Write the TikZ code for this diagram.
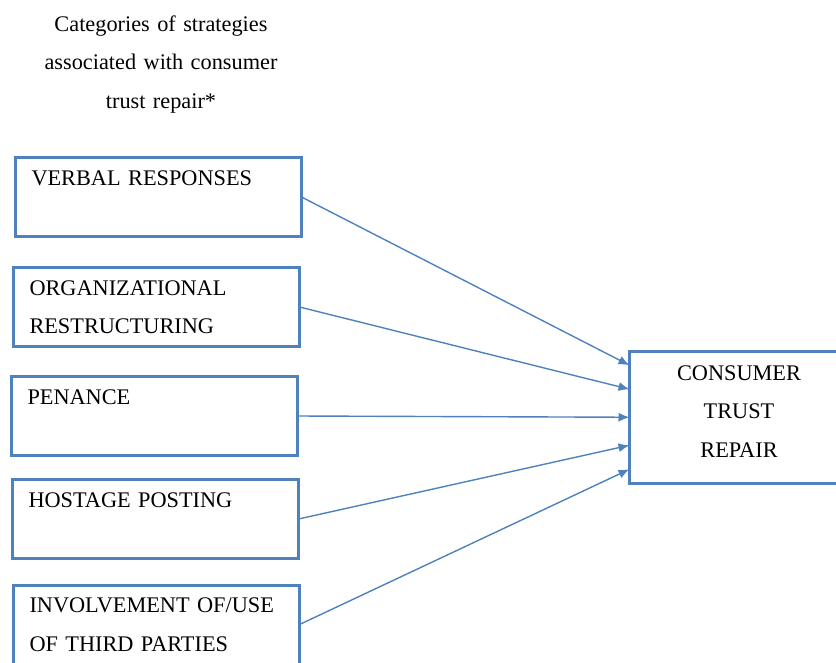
\documentclass[tikz,border=0pt]{standalone}
\usepackage{fontspec}
\setmainfont{Liberation Serif}
\usetikzlibrary{arrows.meta}

\definecolor{boxblue}{HTML}{4F81BD}
\newcommand{\diagfont}{\fontsize{22.3pt}{38.5pt}\selectfont}

\tikzset{
  strategy/.style={draw=boxblue, line width=3pt, anchor=north west, outer sep=0pt,
    text width=254pt, inner xsep=16pt, inner ysep=1pt,
    minimum height=79pt, align=left, font=\diagfont},
  outcome/.style={draw=boxblue, line width=3pt, anchor=north west, outer sep=0pt,
    text width=190pt, inner xsep=14.5pt, inner ysep=1.75pt,
    minimum height=131.5pt, align=center, font=\diagfont},
  link/.style={draw=boxblue, line width=1.4pt, -{Latex[length=11pt,width=9pt]}},
}

\begin{document}
\begin{tikzpicture}[x=1pt, y=-1pt]
  \useasboundingbox (0,0) rectangle (836,662);

  % ==== HEADING ====
  \node[font=\diagfont, text width=260pt, align=center, inner sep=0pt, anchor=base]
    (heading) at (161,31) {Categories of strategies\\associated with consumer\\trust repair*};

  % ==== STRATEGY BOXES ====
  \node[strategy] (verbal)  at (15.5,157.5) {\strut VERBAL RESPONSES\\\strut};
  \node[strategy] (restruct) at (13.5,267.5) {\strut ORGANIZATIONAL\\RESTRUCTURING\strut};
  \node[strategy] (penance) at (11.5,376.5) {\strut PENANCE\\\strut};
  \node[strategy] (hostage) at (12.5,479.5) {\strut HOSTAGE POSTING\\\strut};
  \node[strategy] (thirdparty) at (13.5,585) {\strut INVOLVEMENT OF/USE\\OF THIRD PARTIES\strut};

  % ==== OUTCOME (deeper last line keeps the text near the top) ====
  \node[outcome] (repair) at (629.5,351.5)
    {\strut CONSUMER\\TRUST\\REPAIR\rule[-24pt]{0pt}{24pt}};

  % ==== LINKS ====
  \draw[link] (verbal.east)     -- ([yshift=52pt]repair.west);
  \draw[link] (restruct.east)   -- ([yshift=28pt]repair.west);
  \draw[link] (penance.east)    -- (repair.west);
  \draw[link] (hostage.east)    -- ([yshift=-28pt]repair.west);
  \draw[link] (thirdparty.east) -- ([yshift=-52pt]repair.west);
\end{tikzpicture}
\end{document}
